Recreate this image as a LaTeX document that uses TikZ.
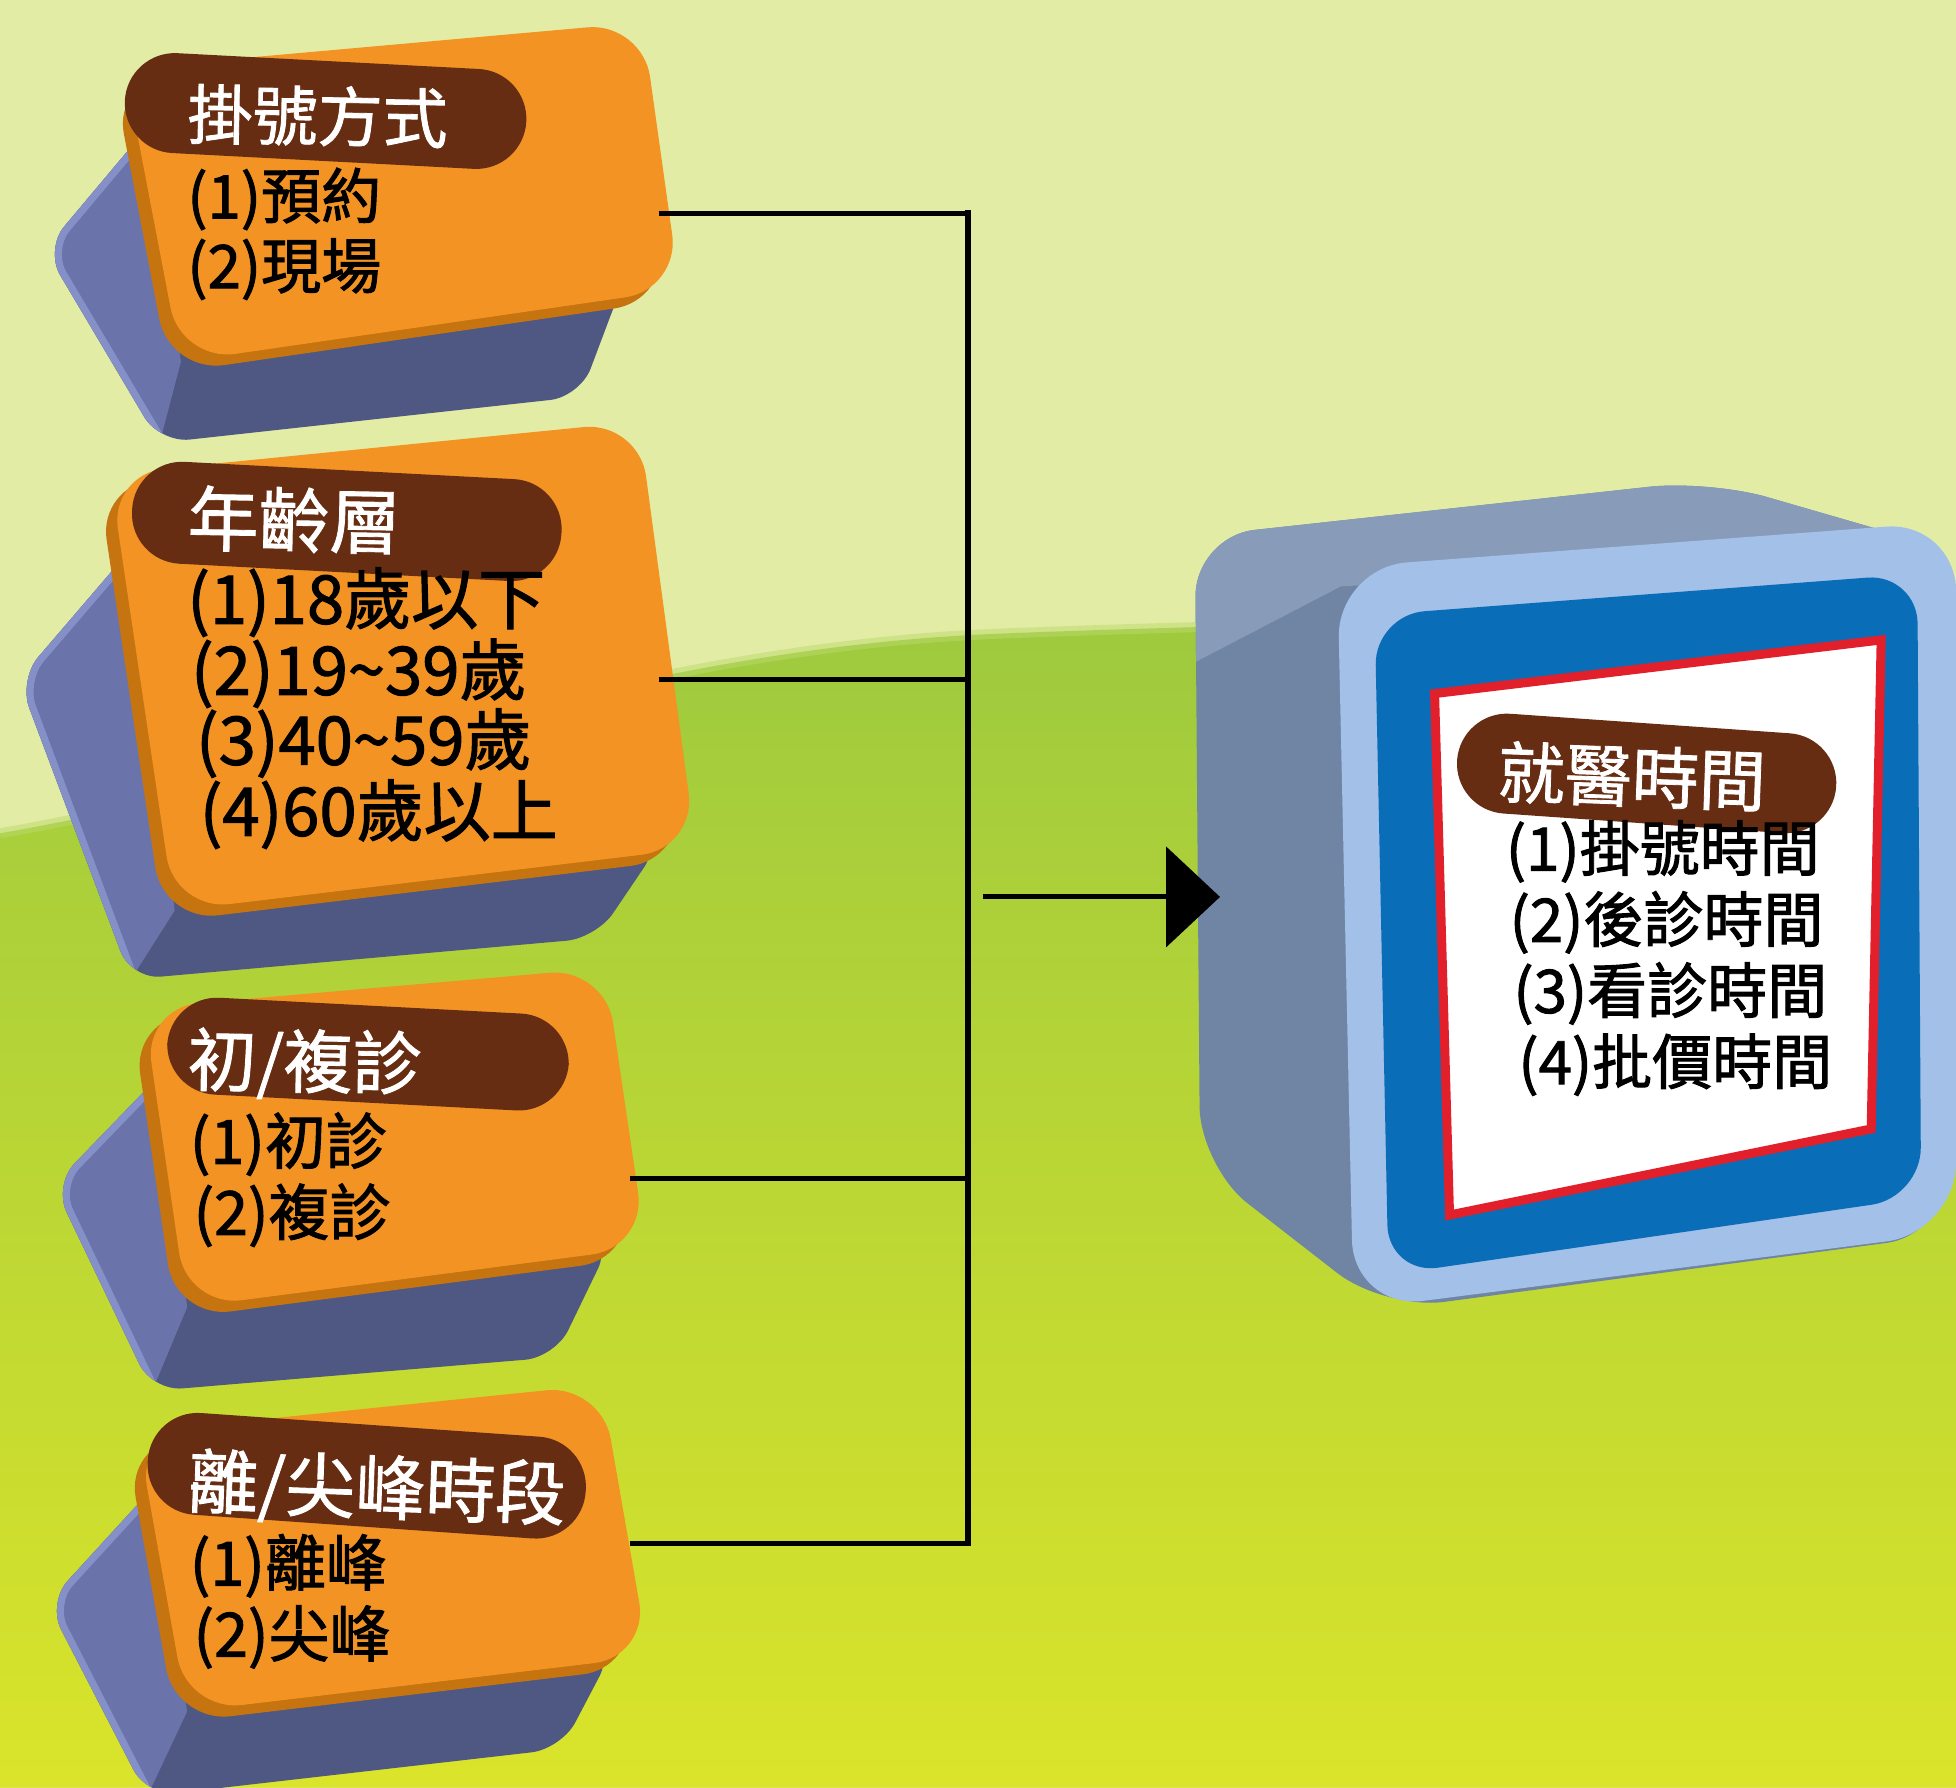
\documentclass[tikz,border=0pt]{standalone}
\usepackage{fontspec}
\newfontfamily\cjk[FakeBold=1.6]{Noto Sans CJK TC}
\newfontfamily\cjktitle[FakeBold=1.2]{Noto Sans CJK TC}
\usetikzlibrary{arrows.meta}

\definecolor{bglight}{HTML}{E2ECA5}
\definecolor{hilltop}{HTML}{9CC93F}
\definecolor{hillbottom}{HTML}{DAE42A}
\definecolor{orangeface}{HTML}{F39323}
\definecolor{orangeedge}{HTML}{C57410}
\definecolor{pillbrown}{HTML}{672D13}
\definecolor{bodybase}{HTML}{4F5882}
\definecolor{bodylight}{HTML}{6A74AB}
\definecolor{bodyhigh}{HTML}{8690C8}
\definecolor{graybody}{HTML}{7085A4}
\definecolor{graytop}{HTML}{889BB9}
\definecolor{framelight}{HTML}{A2C0E8}
\definecolor{framedark}{HTML}{0A6DB7}
\definecolor{framered}{HTML}{E2202B}

% an extruded rounded slab: front face TL,TR,BR,BL and body outline P1..P5
\newcommand\drawslab[9]{%
  \fill[bodybase, rounded corners=30pt] (#5) -- (#6) -- (#7) -- (#8) -- (#9) -- cycle;
  \begin{scope}
    \clip[rounded corners=30pt] (#5) -- (#6) -- (#7) -- (#8) -- (#9) -- cycle;
    \fill[bodylight] (#5) -- (#6) -- (#7) -- (#4) -- cycle;
    \draw[bodyhigh, line width=14pt, rounded corners=30pt] (#5) -- (#6) -- (#7);
  \end{scope}
  \fill[orangeedge, rounded corners=55pt, shift={(-9,9)}] (#1) -- (#2) -- (#3) -- (#4) -- cycle;
  \fill[orangeface, rounded corners=55pt] (#1) -- (#2) -- (#3) -- (#4) -- cycle;
}

\begin{document}
\begin{tikzpicture}[x=1.2474pt, y=-1.2474pt,
  pill/.style={fill=pillbrown, inner sep=0pt, rounded corners=50pt},
  title/.style={text=white, anchor=base west, inner sep=0pt},
  entry/.style={text=black, anchor=base west, inner sep=0pt},
  link/.style={line width=5pt, black},
  bus/.style={line width=6pt, black, line cap=rect}]
\useasboundingbox (0,0) rectangle (1568,1433);

% background: pale sky and green hill
\fill[bglight] (0,0) rectangle (1568,1433);
\shade[top color=hilltop, bottom color=hillbottom]
  (0,668) .. controls (250,625) and (500,520) .. (800,508)
  .. controls (1100,496) and (1350,500) .. (1568,468)
  -- (1568,1433) -- (0,1433) -- cycle;
\draw[hilltop!55!bglight, line width=10pt, opacity=0.5]
  (0,668) .. controls (250,625) and (500,520) .. (800,508)
  .. controls (1100,496) and (1350,500) .. (1568,468);

% left slabs
\drawslab{100,55}{515,18}{545,232}{145,290}{120,100}{36,200}{128,355}{465,318}{500,225}
\drawslab{88,380}{512,338}{558,680}{140,730}{105,440}{15,545}{105,785}{478,752}{530,675}
\drawslab{115,808}{485,776}{518,1000}{150,1048}{130,860}{43,950}{122,1115}{445,1088}{490,995}
\drawslab{110,1148}{482,1110}{520,1328}{150,1372}{125,1190}{38,1285}{118,1440}{450,1402}{492,1322}

% slab 1: registration mode
\node[pill, minimum width=402pt, minimum height=100pt, rotate=-3] (p1) at (261,89) {};
\node[title, font=\cjktitle\fontsize{65}{78}\selectfont, rotate=-1] (t1) at (150,111) {掛號方式};
\begin{scope}[font=\cjk\fontsize{60}{72}\selectfont]
\node[entry] (a1) at (150,175) {(1)預約};
\node[entry] (a2) at (150,231) {(2)現場};
\end{scope}

% slab 2: age group
\node[pill, minimum width=430pt, minimum height=102pt, rotate=-3] (p2) at (278,418) {};
\node[title, font=\cjktitle\fontsize{71}{85}\selectfont, rotate=-1] (t2) at (150,437) {年齡層};
\begin{scope}[font=\cjk\fontsize{67}{80}\selectfont]
\node[entry] (b1) at (150,500) {(1)18歲以下};
\node[entry] (b2) at (153,557) {(2)19\textasciitilde 39歲};
\node[entry] (b3) at (157,613) {(3)40\textasciitilde 59歲};
\node[entry] (b4) at (160,670) {(4)60歲以上};
\end{scope}

% slab 3: first / return visit
\node[pill, minimum width=402pt, minimum height=97pt, rotate=-3] (p3) at (295,845) {};
\node[title, font=\cjktitle\fontsize{69}{83}\selectfont, rotate=-1] (t3) at (150,870) {初/複診};
\begin{scope}[font=\cjk\fontsize{61}{73}\selectfont]
\node[entry] (c1) at (152,933) {(1)初診};
\node[entry] (c2) at (155,990) {(2)複診};
\end{scope}

% slab 4: off-peak / peak hours
\node[pill, minimum width=439pt, minimum height=102pt, rotate=-4] (p4) at (294,1183) {};
\node[title, font=\cjktitle\fontsize{70}{84}\selectfont, rotate=-2] (t4) at (150,1208) {離/尖峰時段};
\begin{scope}[font=\cjk\fontsize{61}{73}\selectfont]
\node[entry] (d1) at (152,1271) {(1)離峰};
\node[entry] (d2) at (155,1328) {(2)尖峰};
\end{scope}

% result block
\fill[graybody, rounded corners=60pt] (958,430) -- (1370,385) -- (1560,440) -- (1560,990) -- (1110,1050) -- (962,935) -- cycle;
\begin{scope}
  \clip[rounded corners=60pt] (958,430) -- (1370,385) -- (1560,440) -- (1560,990) -- (1110,1050) -- (962,935) -- cycle;
  \fill[graytop] (940,370) -- (1600,350) -- (1600,445) -- (1075,470) -- (950,535) -- cycle;
\end{scope}
\fill[framelight, rounded corners=70pt] (1072,455) -- (1568,418) -- (1568,988) -- (1085,1050) -- cycle;
\fill[framedark, rounded corners=50pt] (1102,493) -- (1537,460) -- (1540,960) -- (1113,1022) -- cycle;
\filldraw[fill=white, draw=framered, line width=9pt] (1150,556) -- (1508,513) -- (1500,905) -- (1162,974) -- cycle;

\node[pill, minimum width=380pt, minimum height=100pt, rotate=-4] (p5) at (1320,620) {};
\node[title, font=\cjktitle\fontsize{67}{80}\selectfont, rotate=-2] (t5) at (1200,639) {就醫時間};
\begin{scope}[font=\cjk\fontsize{60}{72}\selectfont]
\node[entry] (r1) at (1207,698) {(1)掛號時間};
\node[entry] (r2) at (1210,755) {(2)後診時間};
\node[entry] (r3) at (1213,812) {(3)看診時間};
\node[entry] (r4) at (1217,869) {(4)批價時間};
\end{scope}

% connectors
\coordinate (e1) at (528,171);
\coordinate (e2) at (528,545);
\coordinate (e3) at (505,945);
\coordinate (e4) at (505,1237);
\coordinate (j1) at (776,171);
\coordinate (j2) at (776,545);
\coordinate (j3) at (776,945);
\coordinate (j4) at (776,1237);
\coordinate (src) at (788,719);
\coordinate (tip) at (978,719);
\draw[link] (e1) -- (j1);
\draw[link] (e2) -- (j2);
\draw[link] (e3) -- (j3);
\draw[link] (e4) -- (j4);
\draw[bus] (j1) -- (j4);
\draw[link, -{Triangle[length=54pt, width=100pt]}] (src) -- (tip);
\end{tikzpicture}
\end{document}
